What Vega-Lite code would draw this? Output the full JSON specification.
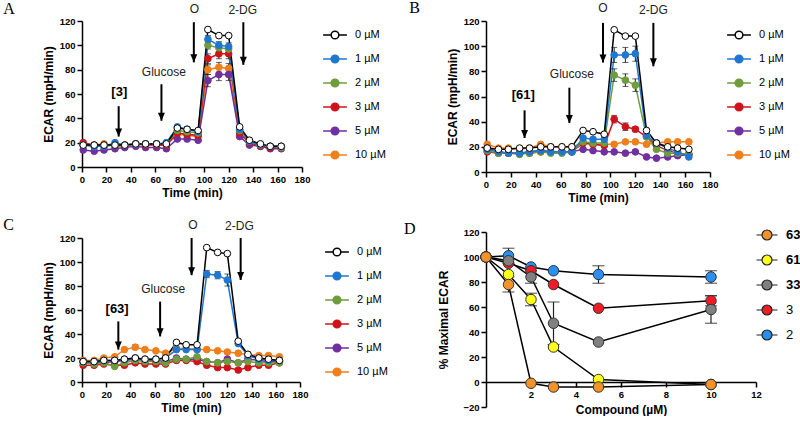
{
"$schema":"https://vega.github.io/schema/vega-lite/v6.json",
"background":"white",
"padding":{"left":3,"top":0,"right":0,"bottom":0},
"config":{
 "view":{"stroke":null},
 "axis":{"domainColor":"black","domainWidth":1.5,"tickColor":"black","tickWidth":1.5,"tickSize":5,"tickCount":30,"format":"d","labelFlush":false,"labelFont":"Liberation Sans","labelFontWeight":"bold","labelFontSize":9.5,"labelColor":"black","labelOverlap":false,"titleFont":"Liberation Sans","titleFontWeight":"bold","titleFontSize":12,"titleColor":"black","grid":false,"labelPadding":2,"titlePadding":4},
 "title":{"font":"Liberation Serif","fontSize":16,"fontWeight":"normal","anchor":"start","frame":"bounds","color":"black"},
 "text":{"font":"Liberation Sans","color":"black"}
},
"datasets":{
 "A":[
{"t":1,"c":"10 µM","v":18},{"t":10,"c":"10 µM","v":18},{"t":18,"c":"10 µM","v":19},{"t":27,"c":"10 µM","v":17},{"t":35,"c":"10 µM","v":17},{"t":44,"c":"10 µM","v":19},{"t":52,"c":"10 µM","v":19},{"t":61,"c":"10 µM","v":19},{"t":69,"c":"10 µM","v":18},{"t":78,"c":"10 µM","v":27},{"t":86,"c":"10 µM","v":26},{"t":95,"c":"10 µM","v":25},{"t":103,"c":"10 µM","v":80,"lo":76,"hi":84},{"t":112,"c":"10 µM","v":82,"lo":78,"hi":86},{"t":120,"c":"10 µM","v":81,"lo":77,"hi":85},{"t":129,"c":"10 µM","v":26},{"t":137,"c":"10 µM","v":21},{"t":146,"c":"10 µM","v":18},{"t":154,"c":"10 µM","v":17},{"t":163,"c":"10 µM","v":17},
{"t":1,"c":"5 µM","v":14},{"t":10,"c":"5 µM","v":13},{"t":18,"c":"5 µM","v":14},{"t":27,"c":"5 µM","v":15},{"t":35,"c":"5 µM","v":16},{"t":44,"c":"5 µM","v":17},{"t":52,"c":"5 µM","v":16},{"t":61,"c":"5 µM","v":16},{"t":69,"c":"5 µM","v":15},{"t":78,"c":"5 µM","v":23},{"t":86,"c":"5 µM","v":23},{"t":95,"c":"5 µM","v":22},{"t":103,"c":"5 µM","v":71,"lo":66,"hi":76},{"t":112,"c":"5 µM","v":76,"lo":71,"hi":81},{"t":120,"c":"5 µM","v":76,"lo":71,"hi":81},{"t":129,"c":"5 µM","v":25},{"t":137,"c":"5 µM","v":18},{"t":146,"c":"5 µM","v":17},{"t":154,"c":"5 µM","v":15},{"t":163,"c":"5 µM","v":15},
{"t":1,"c":"3 µM","v":20},{"t":10,"c":"3 µM","v":18},{"t":18,"c":"3 µM","v":18},{"t":27,"c":"3 µM","v":18},{"t":35,"c":"3 µM","v":18},{"t":44,"c":"3 µM","v":19},{"t":52,"c":"3 µM","v":18},{"t":61,"c":"3 µM","v":18},{"t":69,"c":"3 µM","v":18},{"t":78,"c":"3 µM","v":28},{"t":86,"c":"3 µM","v":27},{"t":95,"c":"3 µM","v":26},{"t":103,"c":"3 µM","v":89,"lo":85,"hi":93},{"t":112,"c":"3 µM","v":93,"lo":89,"hi":97},{"t":120,"c":"3 µM","v":93,"lo":89,"hi":97},{"t":129,"c":"3 µM","v":28},{"t":137,"c":"3 µM","v":20},{"t":146,"c":"3 µM","v":17},{"t":154,"c":"3 µM","v":16},{"t":163,"c":"3 µM","v":16},
{"t":1,"c":"2 µM","v":18},{"t":10,"c":"2 µM","v":17},{"t":18,"c":"2 µM","v":17},{"t":27,"c":"2 µM","v":18},{"t":35,"c":"2 µM","v":18},{"t":44,"c":"2 µM","v":19},{"t":52,"c":"2 µM","v":19},{"t":61,"c":"2 µM","v":19},{"t":69,"c":"2 µM","v":19},{"t":78,"c":"2 µM","v":30},{"t":86,"c":"2 µM","v":29},{"t":95,"c":"2 µM","v":28},{"t":103,"c":"2 µM","v":100,"lo":97,"hi":103},{"t":112,"c":"2 µM","v":98,"lo":95,"hi":101},{"t":120,"c":"2 µM","v":97,"lo":94,"hi":100},{"t":129,"c":"2 µM","v":30},{"t":137,"c":"2 µM","v":21},{"t":146,"c":"2 µM","v":18},{"t":154,"c":"2 µM","v":17},{"t":163,"c":"2 µM","v":16},
{"t":1,"c":"1 µM","v":18},{"t":10,"c":"1 µM","v":17},{"t":18,"c":"1 µM","v":17},{"t":27,"c":"1 µM","v":20},{"t":35,"c":"1 µM","v":18},{"t":44,"c":"1 µM","v":19},{"t":52,"c":"1 µM","v":19},{"t":61,"c":"1 µM","v":19},{"t":69,"c":"1 µM","v":20},{"t":78,"c":"1 µM","v":33},{"t":86,"c":"1 µM","v":31},{"t":95,"c":"1 µM","v":29},{"t":103,"c":"1 µM","v":105,"lo":102,"hi":108},{"t":112,"c":"1 µM","v":100,"lo":97,"hi":103},{"t":120,"c":"1 µM","v":99,"lo":96,"hi":102},{"t":129,"c":"1 µM","v":31},{"t":137,"c":"1 µM","v":21},{"t":146,"c":"1 µM","v":18},{"t":154,"c":"1 µM","v":17},{"t":163,"c":"1 µM","v":17},
{"t":1,"c":"0 µM","v":18},{"t":10,"c":"0 µM","v":18},{"t":18,"c":"0 µM","v":18},{"t":27,"c":"0 µM","v":18},{"t":35,"c":"0 µM","v":18},{"t":44,"c":"0 µM","v":19},{"t":52,"c":"0 µM","v":19},{"t":61,"c":"0 µM","v":19},{"t":69,"c":"0 µM","v":19},{"t":78,"c":"0 µM","v":32},{"t":86,"c":"0 µM","v":31},{"t":95,"c":"0 µM","v":30},{"t":103,"c":"0 µM","v":113},{"t":112,"c":"0 µM","v":108},{"t":120,"c":"0 µM","v":108},{"t":129,"c":"0 µM","v":33},{"t":137,"c":"0 µM","v":22},{"t":146,"c":"0 µM","v":19},{"t":154,"c":"0 µM","v":17},{"t":163,"c":"0 µM","v":17}
 ],
 "B":[
{"t":1,"c":"10 µM","v":22},{"t":10,"c":"10 µM","v":19},{"t":18,"c":"10 µM","v":19},{"t":27,"c":"10 µM","v":18},{"t":35,"c":"10 µM","v":19},{"t":44,"c":"10 µM","v":22},{"t":52,"c":"10 µM","v":20},{"t":61,"c":"10 µM","v":20},{"t":69,"c":"10 µM","v":20},{"t":78,"c":"10 µM","v":23},{"t":86,"c":"10 µM","v":22},{"t":95,"c":"10 µM","v":22},{"t":103,"c":"10 µM","v":22},{"t":112,"c":"10 µM","v":24},{"t":120,"c":"10 µM","v":24},{"t":129,"c":"10 µM","v":22},{"t":137,"c":"10 µM","v":23},{"t":146,"c":"10 µM","v":24},{"t":154,"c":"10 µM","v":24},{"t":163,"c":"10 µM","v":24},
{"t":1,"c":"5 µM","v":19},{"t":10,"c":"5 µM","v":16},{"t":18,"c":"5 µM","v":15},{"t":27,"c":"5 µM","v":15},{"t":35,"c":"5 µM","v":16},{"t":44,"c":"5 µM","v":17},{"t":52,"c":"5 µM","v":16},{"t":61,"c":"5 µM","v":16},{"t":69,"c":"5 µM","v":16},{"t":78,"c":"5 µM","v":18},{"t":86,"c":"5 µM","v":17},{"t":95,"c":"5 µM","v":16},{"t":103,"c":"5 µM","v":16},{"t":112,"c":"5 µM","v":15},{"t":120,"c":"5 µM","v":16},{"t":129,"c":"5 µM","v":12},{"t":137,"c":"5 µM","v":11},{"t":146,"c":"5 µM","v":12},{"t":154,"c":"5 µM","v":13},{"t":163,"c":"5 µM","v":14},
{"t":1,"c":"3 µM","v":16},{"t":10,"c":"3 µM","v":15},{"t":18,"c":"3 µM","v":15},{"t":27,"c":"3 µM","v":15},{"t":35,"c":"3 µM","v":15},{"t":44,"c":"3 µM","v":16},{"t":52,"c":"3 µM","v":16},{"t":61,"c":"3 µM","v":16},{"t":69,"c":"3 µM","v":16},{"t":78,"c":"3 µM","v":23},{"t":86,"c":"3 µM","v":22},{"t":95,"c":"3 µM","v":21},{"t":103,"c":"3 µM","v":42,"lo":39,"hi":45},{"t":112,"c":"3 µM","v":36,"lo":33,"hi":39},{"t":120,"c":"3 µM","v":34,"lo":32,"hi":36},{"t":129,"c":"3 µM","v":28},{"t":137,"c":"3 µM","v":21},{"t":146,"c":"3 µM","v":17},{"t":154,"c":"3 µM","v":15},{"t":163,"c":"3 µM","v":14},
{"t":1,"c":"2 µM","v":17},{"t":10,"c":"2 µM","v":15},{"t":18,"c":"2 µM","v":15},{"t":27,"c":"2 µM","v":14},{"t":35,"c":"2 µM","v":15},{"t":44,"c":"2 µM","v":16},{"t":52,"c":"2 µM","v":15},{"t":61,"c":"2 µM","v":15},{"t":69,"c":"2 µM","v":16},{"t":78,"c":"2 µM","v":24},{"t":86,"c":"2 µM","v":23},{"t":95,"c":"2 µM","v":23},{"t":103,"c":"2 µM","v":77,"lo":72,"hi":82},{"t":112,"c":"2 µM","v":73,"lo":68,"hi":78},{"t":120,"c":"2 µM","v":69,"lo":64,"hi":74},{"t":129,"c":"2 µM","v":28},{"t":137,"c":"2 µM","v":18},{"t":146,"c":"2 µM","v":15},{"t":154,"c":"2 µM","v":15},{"t":163,"c":"2 µM","v":14},
{"t":1,"c":"1 µM","v":18},{"t":10,"c":"1 µM","v":16},{"t":18,"c":"1 µM","v":15},{"t":27,"c":"1 µM","v":15},{"t":35,"c":"1 µM","v":16},{"t":44,"c":"1 µM","v":17},{"t":52,"c":"1 µM","v":16},{"t":61,"c":"1 µM","v":16},{"t":69,"c":"1 µM","v":16},{"t":78,"c":"1 µM","v":27},{"t":86,"c":"1 µM","v":26},{"t":95,"c":"1 µM","v":26},{"t":103,"c":"1 µM","v":93,"lo":87,"hi":99},{"t":112,"c":"1 µM","v":93,"lo":87,"hi":99},{"t":120,"c":"1 µM","v":94,"lo":88,"hi":100},{"t":129,"c":"1 µM","v":29},{"t":137,"c":"1 µM","v":23},{"t":146,"c":"1 µM","v":19},{"t":154,"c":"1 µM","v":16},{"t":163,"c":"1 µM","v":12},
{"t":1,"c":"0 µM","v":19},{"t":10,"c":"0 µM","v":18},{"t":18,"c":"0 µM","v":18},{"t":27,"c":"0 µM","v":19},{"t":35,"c":"0 µM","v":19},{"t":44,"c":"0 µM","v":20},{"t":52,"c":"0 µM","v":20},{"t":61,"c":"0 µM","v":20},{"t":69,"c":"0 µM","v":20},{"t":78,"c":"0 µM","v":33},{"t":86,"c":"0 µM","v":32},{"t":95,"c":"0 µM","v":30},{"t":103,"c":"0 µM","v":113},{"t":112,"c":"0 µM","v":108},{"t":120,"c":"0 µM","v":108},{"t":129,"c":"0 µM","v":33},{"t":137,"c":"0 µM","v":23},{"t":146,"c":"0 µM","v":20},{"t":154,"c":"0 µM","v":19},{"t":163,"c":"0 µM","v":18}
 ],
 "C":[
{"t":1,"c":"10 µM","v":18},{"t":10,"c":"10 µM","v":18},{"t":18,"c":"10 µM","v":20},{"t":27,"c":"10 µM","v":21},{"t":35,"c":"10 µM","v":27},{"t":44,"c":"10 µM","v":29,"lo":27,"hi":31},{"t":52,"c":"10 µM","v":27},{"t":61,"c":"10 µM","v":26},{"t":69,"c":"10 µM","v":24},{"t":78,"c":"10 µM","v":28},{"t":86,"c":"10 µM","v":28},{"t":95,"c":"10 µM","v":27},{"t":103,"c":"10 µM","v":27},{"t":112,"c":"10 µM","v":26},{"t":120,"c":"10 µM","v":25},{"t":129,"c":"10 µM","v":24},{"t":137,"c":"10 µM","v":23},{"t":146,"c":"10 µM","v":22},{"t":154,"c":"10 µM","v":22},{"t":163,"c":"10 µM","v":21},
{"t":1,"c":"5 µM","v":17},{"t":10,"c":"5 µM","v":16},{"t":18,"c":"5 µM","v":16},{"t":27,"c":"5 µM","v":17},{"t":35,"c":"5 µM","v":18},{"t":44,"c":"5 µM","v":19},{"t":52,"c":"5 µM","v":18},{"t":61,"c":"5 µM","v":18},{"t":69,"c":"5 µM","v":17},{"t":78,"c":"5 µM","v":20},{"t":86,"c":"5 µM","v":19},{"t":95,"c":"5 µM","v":19},{"t":103,"c":"5 µM","v":17},{"t":112,"c":"5 µM","v":16},{"t":120,"c":"5 µM","v":19},{"t":129,"c":"5 µM","v":16},{"t":137,"c":"5 µM","v":19},{"t":146,"c":"5 µM","v":18},{"t":154,"c":"5 µM","v":17},{"t":163,"c":"5 µM","v":17},
{"t":1,"c":"3 µM","v":14},{"t":10,"c":"3 µM","v":14},{"t":18,"c":"3 µM","v":15},{"t":27,"c":"3 µM","v":14},{"t":35,"c":"3 µM","v":14},{"t":44,"c":"3 µM","v":16},{"t":52,"c":"3 µM","v":15},{"t":61,"c":"3 µM","v":15},{"t":69,"c":"3 µM","v":15},{"t":78,"c":"3 µM","v":18},{"t":86,"c":"3 µM","v":18},{"t":95,"c":"3 µM","v":17},{"t":103,"c":"3 µM","v":14},{"t":112,"c":"3 µM","v":12},{"t":120,"c":"3 µM","v":12},{"t":129,"c":"3 µM","v":10},{"t":137,"c":"3 µM","v":12},{"t":146,"c":"3 µM","v":14},{"t":154,"c":"3 µM","v":14},{"t":163,"c":"3 µM","v":16},
{"t":1,"c":"2 µM","v":16},{"t":10,"c":"2 µM","v":15},{"t":18,"c":"2 µM","v":16},{"t":27,"c":"2 µM","v":13},{"t":35,"c":"2 µM","v":16},{"t":44,"c":"2 µM","v":18},{"t":52,"c":"2 µM","v":17},{"t":61,"c":"2 µM","v":17},{"t":69,"c":"2 µM","v":16},{"t":78,"c":"2 µM","v":19},{"t":86,"c":"2 µM","v":19},{"t":95,"c":"2 µM","v":21},{"t":103,"c":"2 µM","v":17},{"t":112,"c":"2 µM","v":16},{"t":120,"c":"2 µM","v":17},{"t":129,"c":"2 µM","v":16},{"t":137,"c":"2 µM","v":17},{"t":146,"c":"2 µM","v":16},{"t":154,"c":"2 µM","v":16},{"t":163,"c":"2 µM","v":16},
{"t":1,"c":"1 µM","v":17},{"t":10,"c":"1 µM","v":17},{"t":18,"c":"1 µM","v":18},{"t":27,"c":"1 µM","v":18},{"t":35,"c":"1 µM","v":19},{"t":44,"c":"1 µM","v":20},{"t":52,"c":"1 µM","v":19},{"t":61,"c":"1 µM","v":19},{"t":69,"c":"1 µM","v":20},{"t":78,"c":"1 µM","v":27},{"t":86,"c":"1 µM","v":27},{"t":95,"c":"1 µM","v":27},{"t":103,"c":"1 µM","v":90,"lo":87,"hi":93},{"t":112,"c":"1 µM","v":89,"lo":86,"hi":92},{"t":120,"c":"1 µM","v":85,"lo":80,"hi":90},{"t":129,"c":"1 µM","v":32},{"t":137,"c":"1 µM","v":22},{"t":146,"c":"1 µM","v":19},{"t":154,"c":"1 µM","v":18},{"t":163,"c":"1 µM","v":18},
{"t":1,"c":"0 µM","v":17},{"t":10,"c":"0 µM","v":17},{"t":18,"c":"0 µM","v":18},{"t":27,"c":"0 µM","v":18},{"t":35,"c":"0 µM","v":19},{"t":44,"c":"0 µM","v":20},{"t":52,"c":"0 µM","v":19},{"t":61,"c":"0 µM","v":19},{"t":69,"c":"0 µM","v":20},{"t":78,"c":"0 µM","v":33},{"t":86,"c":"0 µM","v":31},{"t":95,"c":"0 µM","v":31},{"t":103,"c":"0 µM","v":112},{"t":112,"c":"0 µM","v":108},{"t":120,"c":"0 µM","v":107},{"t":129,"c":"0 µM","v":34},{"t":137,"c":"0 µM","v":23},{"t":146,"c":"0 µM","v":20},{"t":154,"c":"0 µM","v":19},{"t":163,"c":"0 µM","v":18}
 ],
 "D":[
{"x":0,"cmp":"2","v":100},{"x":1,"cmp":"2","v":101,"lo":95,"hi":107},{"x":2,"cmp":"2","v":92},{"x":3,"cmp":"2","v":89},{"x":5,"cmp":"2","v":86,"lo":79,"hi":93},{"x":10,"cmp":"2","v":84,"lo":79,"hi":89},
{"x":0,"cmp":"3","v":100},{"x":1,"cmp":"3","v":95},{"x":2,"cmp":"3","v":89},{"x":3,"cmp":"3","v":78},{"x":5,"cmp":"3","v":59},{"x":10,"cmp":"3","v":65,"lo":61,"hi":69},
{"x":0,"cmp":"33","v":100},{"x":1,"cmp":"33","v":97},{"x":2,"cmp":"33","v":84,"lo":79,"hi":89},{"x":3,"cmp":"33","v":47,"lo":30,"hi":64},{"x":5,"cmp":"33","v":32},{"x":10,"cmp":"33","v":58,"lo":47,"hi":69},
{"x":0,"cmp":"61","v":100},{"x":1,"cmp":"61","v":86},{"x":2,"cmp":"61","v":66,"lo":61,"hi":71},{"x":3,"cmp":"61","v":28},{"x":5,"cmp":"61","v":2},{"x":10,"cmp":"61","v":-2},
{"x":0,"cmp":"63","v":100},{"x":1,"cmp":"63","v":78,"lo":72,"hi":84},{"x":2,"cmp":"63","v":-1},{"x":3,"cmp":"63","v":-4},{"x":5,"cmp":"63","v":-4},{"x":10,"cmp":"63","v":-2}
 ],
 "arrA":[{"x":30,"y":50,"tip":25},{"x":65,"y":68,"tip":38},{"x":91.5,"y":119,"tip":86},{"x":132,"y":119,"tip":84}],
 "labA":[{"x":30.5,"y":61.5,"label":"[3]","kind":"cmpd"},{"x":67,"y":78,"label":"Glucose","kind":"step"},{"x":92,"y":130,"label":"O","kind":"step"},{"x":131.5,"y":129,"label":"2-DG","kind":"step"}],
 "arrB":[{"x":31,"y":49,"tip":27},{"x":67,"y":67,"tip":39},{"x":94,"y":118.5,"tip":87},{"x":134.5,"y":118.5,"tip":84}],
 "labB":[{"x":30,"y":61,"label":"[61]","kind":"cmpd"},{"x":69,"y":78,"label":"Glucose","kind":"step"},{"x":94,"y":130,"label":"O","kind":"step"},{"x":134.5,"y":129,"label":"2-DG","kind":"step"}],
 "arrC":[{"x":30,"y":50.5,"tip":27},{"x":64.5,"y":67,"tip":38},{"x":90.5,"y":120,"tip":89},{"x":131,"y":120,"tip":85}],
 "labC":[{"x":29,"y":60.5,"label":"[63]","kind":"cmpd"},{"x":67,"y":77.5,"label":"Glucose","kind":"step"},{"x":91.5,"y":131,"label":"O","kind":"step"},{"x":130,"y":130,"label":"2-DG","kind":"step"}]
},
"spacing":15,
"resolve":{"scale":{"x":"independent","y":"independent","fill":"independent","stroke":"independent"},"legend":{"fill":"independent","stroke":"independent"}},
"hconcat":[
 {"spacing":17,
  "resolve":{"scale":{"x":"independent","y":"independent","fill":"independent","stroke":"independent"},"legend":{"fill":"independent","stroke":"independent"}},
  "vconcat":[
  {"width":220,"height":146,
   "title":{"text":"A","dx":-39,"offset":-14},
   "layer":[
    {"data":{"name":"A"},"mark":{"type":"line","strokeWidth":1.5},
     "encoding":{"x":{"field":"t","type":"quantitative","scale":{"domain":[0,180]},"axis":{"values":[0,20,40,60,80,100,120,140,160,180],"labelOverlap":false,"labelFlush":false,"tickCount":30,"format":"d"},"title":"Time (min)"},
      "y":{"field":"v","type":"quantitative","scale":{"domain":[0,120]},"axis":{"values":[0,20,40,60,80,100,120],"labelOverlap":false,"labelFlush":false,"tickCount":30,"format":"d"},"title":"ECAR (mpH/min)"},
      "stroke":{"field":"c","type":"nominal","scale":{"domain":["0 µM","1 µM","2 µM","3 µM","5 µM","10 µM"],"range":["black","#1f77d0","#6f9c3d","#d0121b","#7030a0","#ef7f1a"]},
        "legend":{"orient":"none","legendX":245,"legendY":6,"title":null,"symbolType":"M-1.7,0L-0.55,0M0.55,0L1.7,0M-0.55,0A0.55,0.55,0,1,1,0.55,0A0.55,0.55,0,1,1,-0.55,0Z","symbolSize":196,"symbolStrokeWidth":1.5,"symbolOpacity":1,"labelFont":"Liberation Sans","labelFontSize":11,"labelColor":"black","labelOffset":12,"rowPadding":9}}}},
    {"data":{"name":"A"},"transform":[{"filter":"isValid(datum.lo)"}],"mark":{"type":"errorbar","ticks":{"size":6},"color":"#222","thickness":1},
     "encoding":{"x":{"field":"t","type":"quantitative","title":"Time (min)"},"y":{"field":"lo","type":"quantitative","title":"ECAR (mpH/min)"},"y2":{"field":"hi"}}},
    {"data":{"name":"A"},"mark":{"type":"point","filled":true,"size":45,"strokeWidth":1,"opacity":1},
     "encoding":{"x":{"field":"t","type":"quantitative","title":"Time (min)"},"y":{"field":"v","type":"quantitative","title":"ECAR (mpH/min)"},
      "fill":{"field":"c","type":"nominal","scale":{"domain":["0 µM","1 µM","2 µM","3 µM","5 µM","10 µM"],"range":["white","#1f77d0","#6f9c3d","#d0121b","#7030a0","#ef7f1a"]},
        "legend":{"orient":"none","legendX":245,"legendY":6,"title":null,"symbolType":"M-1.7,0L-0.55,0M0.55,0L1.7,0M-0.55,0A0.55,0.55,0,1,1,0.55,0A0.55,0.55,0,1,1,-0.55,0Z","symbolSize":196,"symbolStrokeWidth":1.5,"symbolOpacity":1,"labelFont":"Liberation Sans","labelFontSize":11,"labelColor":"black","labelOffset":12,"rowPadding":9}},
      "stroke":{"field":"c","type":"nominal"}}},
    {"data":{"name":"arrA"},"mark":{"type":"rule","strokeWidth":2,"color":"black"},
     "encoding":{"x":{"field":"x","type":"quantitative"},"y":{"field":"y","type":"quantitative"},"y2":{"field":"tip"}}},
    {"data":{"name":"arrA"},"mark":{"type":"point","shape":"M-1,-2.3L1,-2.3L0,0Z","filled":true,"color":"black","size":49,"opacity":1},
     "encoding":{"x":{"field":"x","type":"quantitative"},"y":{"field":"tip","type":"quantitative"}}},
    {"data":{"name":"labA"},"transform":[{"filter":"datum.kind == 'cmpd'"}],"mark":{"type":"text","fontSize":13,"fontWeight":"bold","baseline":"middle"},
     "encoding":{"x":{"field":"x","type":"quantitative"},"y":{"field":"y","type":"quantitative"},"text":{"field":"label"}}},
    {"data":{"name":"labA"},"transform":[{"filter":"datum.kind == 'step'"}],"mark":{"type":"text","fontSize":12,"baseline":"middle","color":"#222"},
     "encoding":{"x":{"field":"x","type":"quantitative"},"y":{"field":"y","type":"quantitative"},"text":{"field":"label"}}}
   ]},
  {"width":218,"height":144,
   "title":{"text":"C","dx":-39,"offset":-14},
   "layer":[
    {"data":{"name":"C"},"mark":{"type":"line","strokeWidth":1.5},
     "encoding":{"x":{"field":"t","type":"quantitative","scale":{"domain":[0,180]},"axis":{"values":[0,20,40,60,80,100,120,140,160,180],"labelOverlap":false,"labelFlush":false,"tickCount":30,"format":"d"},"title":"Time (min)"},
      "y":{"field":"v","type":"quantitative","scale":{"domain":[0,120]},"axis":{"values":[0,20,40,60,80,100,120],"labelOverlap":false,"labelFlush":false,"tickCount":30,"format":"d"},"title":"ECAR (mpH/min)"},
      "stroke":{"field":"c","type":"nominal","scale":{"domain":["0 µM","1 µM","2 µM","3 µM","5 µM","10 µM"],"range":["black","#1f77d0","#6f9c3d","#d0121b","#7030a0","#ef7f1a"]},
        "legend":{"orient":"none","legendX":247,"legendY":6,"title":null,"symbolType":"M-1.7,0L-0.55,0M0.55,0L1.7,0M-0.55,0A0.55,0.55,0,1,1,0.55,0A0.55,0.55,0,1,1,-0.55,0Z","symbolSize":196,"symbolStrokeWidth":1.5,"symbolOpacity":1,"labelFont":"Liberation Sans","labelFontSize":11,"labelColor":"black","labelOffset":12,"rowPadding":9}}}},
    {"data":{"name":"C"},"transform":[{"filter":"isValid(datum.lo)"}],"mark":{"type":"errorbar","ticks":{"size":6},"color":"#222","thickness":1},
     "encoding":{"x":{"field":"t","type":"quantitative","title":"Time (min)"},"y":{"field":"lo","type":"quantitative","title":"ECAR (mpH/min)"},"y2":{"field":"hi"}}},
    {"data":{"name":"C"},"mark":{"type":"point","filled":true,"size":45,"strokeWidth":1,"opacity":1},
     "encoding":{"x":{"field":"t","type":"quantitative","title":"Time (min)"},"y":{"field":"v","type":"quantitative","title":"ECAR (mpH/min)"},
      "fill":{"field":"c","type":"nominal","scale":{"domain":["0 µM","1 µM","2 µM","3 µM","5 µM","10 µM"],"range":["white","#1f77d0","#6f9c3d","#d0121b","#7030a0","#ef7f1a"]},
        "legend":{"orient":"none","legendX":247,"legendY":6,"title":null,"symbolType":"M-1.7,0L-0.55,0M0.55,0L1.7,0M-0.55,0A0.55,0.55,0,1,1,0.55,0A0.55,0.55,0,1,1,-0.55,0Z","symbolSize":196,"symbolStrokeWidth":1.5,"symbolOpacity":1,"labelFont":"Liberation Sans","labelFontSize":11,"labelColor":"black","labelOffset":12,"rowPadding":9}},
      "stroke":{"field":"c","type":"nominal"}}},
    {"data":{"name":"arrC"},"mark":{"type":"rule","strokeWidth":2,"color":"black"},
     "encoding":{"x":{"field":"x","type":"quantitative"},"y":{"field":"y","type":"quantitative"},"y2":{"field":"tip"}}},
    {"data":{"name":"arrC"},"mark":{"type":"point","shape":"M-1,-2.3L1,-2.3L0,0Z","filled":true,"color":"black","size":49,"opacity":1},
     "encoding":{"x":{"field":"x","type":"quantitative"},"y":{"field":"tip","type":"quantitative"}}},
    {"data":{"name":"labC"},"transform":[{"filter":"datum.kind == 'cmpd'"}],"mark":{"type":"text","fontSize":13,"fontWeight":"bold","baseline":"middle"},
     "encoding":{"x":{"field":"x","type":"quantitative"},"y":{"field":"y","type":"quantitative"},"text":{"field":"label"}}},
    {"data":{"name":"labC"},"transform":[{"filter":"datum.kind == 'step'"}],"mark":{"type":"text","fontSize":12,"baseline":"middle","color":"#222"},
     "encoding":{"x":{"field":"x","type":"quantitative"},"y":{"field":"y","type":"quantitative"},"text":{"field":"label"}}}
   ]}
 ]},
 {"spacing":17,
  "resolve":{"scale":{"x":"independent","y":"independent","fill":"independent","stroke":"independent"},"legend":{"fill":"independent","stroke":"independent"}},
  "vconcat":[
  {"width":224,"height":151,
   "title":{"text":"B","dx":-37,"offset":-14},
   "layer":[
    {"data":{"name":"B"},"mark":{"type":"line","strokeWidth":1.5},
     "encoding":{"x":{"field":"t","type":"quantitative","scale":{"domain":[0,180]},"axis":{"values":[0,20,40,60,80,100,120,140,160,180],"labelOverlap":false,"labelFlush":false,"tickCount":30,"format":"d"},"title":"Time (min)"},
      "y":{"field":"v","type":"quantitative","scale":{"domain":[0,120]},"axis":{"values":[0,20,40,60,80,100,120],"labelOverlap":false,"labelFlush":false,"tickCount":30,"format":"d"},"title":"ECAR (mpH/min)"},
      "stroke":{"field":"c","type":"nominal","scale":{"domain":["0 µM","1 µM","2 µM","3 µM","5 µM","10 µM"],"range":["black","#1f77d0","#6f9c3d","#d0121b","#7030a0","#ef7f1a"]},
        "legend":{"orient":"none","legendX":245,"legendY":6,"title":null,"symbolType":"M-1.7,0L-0.55,0M0.55,0L1.7,0M-0.55,0A0.55,0.55,0,1,1,0.55,0A0.55,0.55,0,1,1,-0.55,0Z","symbolSize":196,"symbolStrokeWidth":1.5,"symbolOpacity":1,"labelFont":"Liberation Sans","labelFontSize":11,"labelColor":"black","labelOffset":12,"rowPadding":9}}}},
    {"data":{"name":"B"},"transform":[{"filter":"isValid(datum.lo)"}],"mark":{"type":"errorbar","ticks":{"size":6},"color":"#222","thickness":1},
     "encoding":{"x":{"field":"t","type":"quantitative","title":"Time (min)"},"y":{"field":"lo","type":"quantitative","title":"ECAR (mpH/min)"},"y2":{"field":"hi"}}},
    {"data":{"name":"B"},"mark":{"type":"point","filled":true,"size":45,"strokeWidth":1,"opacity":1},
     "encoding":{"x":{"field":"t","type":"quantitative","title":"Time (min)"},"y":{"field":"v","type":"quantitative","title":"ECAR (mpH/min)"},
      "fill":{"field":"c","type":"nominal","scale":{"domain":["0 µM","1 µM","2 µM","3 µM","5 µM","10 µM"],"range":["white","#1f77d0","#6f9c3d","#d0121b","#7030a0","#ef7f1a"]},
        "legend":{"orient":"none","legendX":245,"legendY":6,"title":null,"symbolType":"M-1.7,0L-0.55,0M0.55,0L1.7,0M-0.55,0A0.55,0.55,0,1,1,0.55,0A0.55,0.55,0,1,1,-0.55,0Z","symbolSize":196,"symbolStrokeWidth":1.5,"symbolOpacity":1,"labelFont":"Liberation Sans","labelFontSize":11,"labelColor":"black","labelOffset":12,"rowPadding":9}},
      "stroke":{"field":"c","type":"nominal"}}},
    {"data":{"name":"arrB"},"mark":{"type":"rule","strokeWidth":2,"color":"black"},
     "encoding":{"x":{"field":"x","type":"quantitative"},"y":{"field":"y","type":"quantitative"},"y2":{"field":"tip"}}},
    {"data":{"name":"arrB"},"mark":{"type":"point","shape":"M-1,-2.3L1,-2.3L0,0Z","filled":true,"color":"black","size":49,"opacity":1},
     "encoding":{"x":{"field":"x","type":"quantitative"},"y":{"field":"tip","type":"quantitative"}}},
    {"data":{"name":"labB"},"transform":[{"filter":"datum.kind == 'cmpd'"}],"mark":{"type":"text","fontSize":13,"fontWeight":"bold","baseline":"middle"},
     "encoding":{"x":{"field":"x","type":"quantitative"},"y":{"field":"y","type":"quantitative"},"text":{"field":"label"}}},
    {"data":{"name":"labB"},"transform":[{"filter":"datum.kind == 'step'"}],"mark":{"type":"text","fontSize":12,"baseline":"middle","color":"#222"},
     "encoding":{"x":{"field":"x","type":"quantitative"},"y":{"field":"y","type":"quantitative"},"text":{"field":"label"}}}
   ]},
  {"width":270,"height":175,
   "title":{"text":"D","dx":-34,"offset":-13},
   "data":{"name":"D"},
   "layer":[
    {"mark":{"type":"line","strokeWidth":1.5,"color":"black"},
     "encoding":{"x":{"field":"x","type":"quantitative","scale":{"domain":[0,12]},"axis":{"values":[2,4,6,8,10,12],"labelOverlap":false,"labelFlush":false,"tickCount":30,"format":"d","offset":-25,"titlePadding":6},"title":"Compound (µM)"},
      "y":{"field":"v","type":"quantitative","scale":{"domain":[-20,120]},"axis":{"values":[-20,0,20,40,60,80,100,120],"labelOverlap":false,"labelFlush":false,"tickCount":30,"format":"d","titlePadding":12},"title":"% Maximal ECAR"},
      "detail":{"field":"cmp"}}},
    {"transform":[{"filter":"isValid(datum.lo)"}],"mark":{"type":"errorbar","ticks":{"size":12},"color":"#222","thickness":1.2},
     "encoding":{"x":{"field":"x","type":"quantitative","title":"Compound (µM)"},"y":{"field":"lo","type":"quantitative","title":"% Maximal ECAR"},"y2":{"field":"hi"}}},
    {"mark":{"type":"point","filled":true,"size":110,"strokeWidth":1,"stroke":"#333","opacity":1},
     "encoding":{"x":{"field":"x","type":"quantitative","title":"Compound (µM)"},"y":{"field":"v","type":"quantitative","title":"% Maximal ECAR"},
      "fill":{"field":"cmp","type":"nominal","scale":{"domain":["63","61","33","3","2"],"range":["#f4922a","#ffff1a","#808080","#ee1c24","#2a8ff0"]},
        "legend":{"orient":"none","legendX":270,"legendY":-8,"title":null,"symbolType":"M-1.05,0L-0.5,0M0.5,0L1.05,0M-0.5,0A0.5,0.5,0,1,1,0.5,0A0.5,0.5,0,1,1,-0.5,0Z","symbolSize":400,"symbolStrokeColor":"#222","symbolStrokeWidth":1.2,"symbolOpacity":1,"labelFont":"Liberation Sans","labelFontSize":13,"labelFontWeight":"bold","labelColor":"black","labelOffset":8,"rowPadding":6,
          "encode":{"labels":{"update":{"fontWeight":{"signal":"datum.label == '3' || datum.label == '2' ? 'normal' : 'bold'"}}}}}}}}
   ]}
 ]}
]
}
